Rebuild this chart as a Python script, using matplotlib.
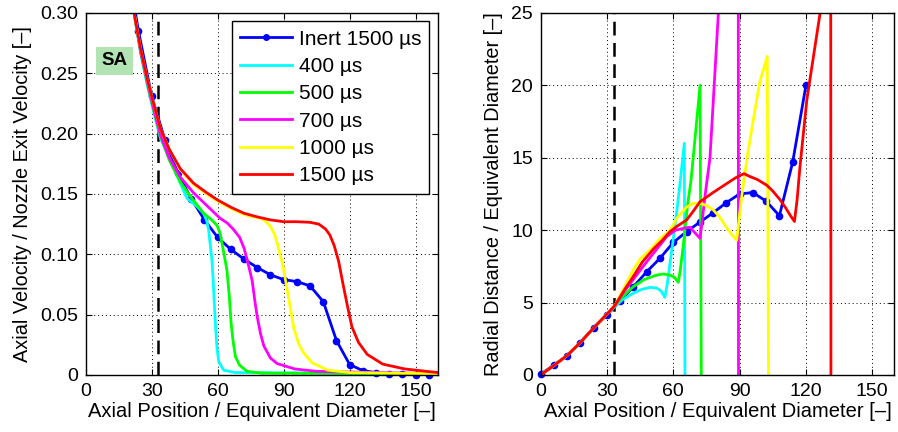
import matplotlib
matplotlib.use("Agg")
import matplotlib.pyplot as plt
from matplotlib.ticker import FuncFormatter
import numpy as np

plt.rcParams.update({
    "font.family": ["Liberation Sans", "DejaVu Sans"],
    "font.size": 14,
    "axes.linewidth": 1.0,
    "xtick.direction": "in",
    "ytick.direction": "in",
    "xtick.top": True,
    "ytick.right": True,
    "xtick.major.size": 4,
    "ytick.major.size": 4,
})

LABELS = ["Inert 1500 µs", "400 µs", "500 µs", "700 µs", "1000 µs", "1500 µs"]
COLORS = ["#0000ff", "#00ffff", "#00ff00", "#ff00ff", "#ffff00", "#ff0000"]
SA_POS = 33

# ---- left panel: axial velocity ----
inert_x = [18, 24, 30, 36, 42, 48, 54, 60, 66, 72, 78, 84, 90, 96, 102, 108, 114,
           120, 126, 132, 138, 144, 150, 156]
inert_v = [0.35, 0.285, 0.231, 0.195, 0.167, 0.146, 0.1285, 0.114, 0.104, 0.096, 0.089,
           0.083, 0.079, 0.0774, 0.0738, 0.0608, 0.0285, 0.0086, 0.0036, 0.002, 0.001,
           0.0005, 0.0003, 0.0003]

v400_x = [18, 22, 25, 28, 31, 34, 38.4, 43, 46, 50.6, 53.6, 55, 55.9, 56.8, 57.4, 58,
          58.5, 59.1, 59.7, 60.5, 62.7, 68, 160]
v400_v = [0.36, 0.30, 0.266, 0.240, 0.217, 0.196, 0.178, 0.159, 0.1465, 0.1396, 0.134,
          0.128, 0.120, 0.105, 0.095, 0.077, 0.058, 0.038, 0.022, 0.011, 0.004, 0.002, 0.001]

v500_x = [18, 22, 25, 28, 31, 34, 38, 43, 47.6, 53.6, 57, 59.7, 61, 62, 63.2, 64.2, 65.3,
          66.1, 67, 68.1, 70, 73.4, 80, 160]
v500_v = [0.36, 0.30, 0.268, 0.242, 0.219, 0.198, 0.178, 0.160, 0.148, 0.134, 0.129, 0.124,
          0.118, 0.109, 0.097, 0.087, 0.065, 0.043, 0.028, 0.015, 0.008, 0.003, 0.0015, 0.001]

v700_x = [18, 22, 25, 28, 31, 34, 38, 43, 49, 53, 57, 61, 64.3, 67, 70, 72, 74, 75.7, 77,
          78, 79.5, 81, 84, 87, 95, 105, 160]
v700_v = [0.36, 0.30, 0.268, 0.243, 0.220, 0.199, 0.180, 0.164, 0.151, 0.144, 0.137, 0.130,
          0.126, 0.121, 0.114, 0.105, 0.091, 0.078, 0.060, 0.048, 0.034, 0.024, 0.014,
          0.0095, 0.005, 0.003, 0.001]

v1000_x = [18, 22, 25, 28, 31, 34, 38, 43, 49, 55, 60, 66, 72, 76, 79.5, 82, 84, 86, 87.5,
           89.5, 91, 92.5, 94.7, 97, 99.2, 103, 110, 120, 160]
v1000_v = [0.36, 0.30, 0.270, 0.245, 0.224, 0.204, 0.187, 0.170, 0.158, 0.150, 0.144,
           0.138, 0.133, 0.131, 0.130, 0.127, 0.123, 0.116, 0.106, 0.092, 0.077, 0.061,
           0.038, 0.025, 0.018, 0.010, 0.004, 0.002, 0.001]

v1500_x = [18, 22, 25, 28, 31, 34, 38, 43, 49, 55, 60, 66, 72, 78, 84, 90, 96, 102, 106,
           109, 111, 113, 115, 117, 119, 121, 124, 128, 135, 145, 160]
v1500_v = [0.36, 0.30, 0.270, 0.245, 0.224, 0.204, 0.187, 0.171, 0.159, 0.151, 0.145,
           0.139, 0.134, 0.131, 0.1285, 0.127, 0.127, 0.1265, 0.125, 0.121, 0.116, 0.107,
           0.094, 0.075, 0.057, 0.040, 0.027, 0.017, 0.009, 0.005, 0.002]

# ---- right panel: radial distance ----
inert_rx = [0, 6, 12, 18, 24, 30, 36, 42, 48, 54, 60, 66, 72, 78, 84, 90, 96, 102, 108,
            114, 120]
inert_r = [0.05, 0.69, 1.33, 2.23, 3.27, 4.14, 5.1, 6.1, 7.13, 8.06, 9.15, 9.9, 10.55,
           11.2, 11.9, 12.5, 12.6, 12.0, 11.0, 14.7, 20.0]

r400_x = [0, 6, 12, 18, 24, 30, 33.6, 37, 41.9, 45.5, 49.5, 52.5, 54.5, 56.2, 57.3, 58.5,
          60, 61.5, 63.3, 65, 65.3]
r400_r = [0, 0.65, 1.35, 2.25, 3.25, 4.2, 4.72, 5.2, 5.64, 5.9, 6.05, 6.0, 5.8, 5.36, 6.3,
          7.7, 9.4, 11.2, 13.6, 16.0, -1]

r500_x = [0, 6, 12, 18, 24, 30, 33.6, 37, 41.9, 47, 52.5, 55.5, 58.5, 60.5, 62.3, 63.2,
          64.5, 66.5, 68, 70, 72.1, 72.7]
r500_r = [0, 0.65, 1.35, 2.25, 3.25, 4.2, 4.8, 5.4, 6.1, 6.6, 6.9, 6.97, 6.9, 6.75, 6.4,
          7.3, 8.9, 11.8, 13.4, 16.6, 20.0, -1]

r700_x = [0, 6, 12, 18, 24, 30, 33.6, 37, 41.9, 46.4, 51, 57, 61, 65.3, 67.6, 69, 72.1,
          73.2, 74.3, 76.6, 80.4, 82, 89.4, 89.5]
r700_r = [0, 0.65, 1.35, 2.25, 3.25, 4.2, 4.8, 5.6, 6.6, 7.5, 8.4, 9.55, 10.0, 10.15, 10.2,
          9.95, 9.44, 10.8, 12.3, 15.0, 25.0, 30.0, 30.0, -1]

r1000_x = [0, 6, 12, 18, 24, 30, 33.6, 37, 41.9, 45, 49.5, 54, 58.5, 62, 66, 69, 72.1, 75,
           78.1, 81, 84.9, 87, 88.7, 89.5, 90.5, 91.7, 93.9, 96.5, 99.2, 101, 102.5, 103.1]
r1000_r = [0, 0.65, 1.35, 2.25, 3.25, 4.2, 4.8, 5.8, 7.25, 8.0, 8.63, 9.4, 10.0, 10.9,
           11.6, 11.85, 11.86, 11.7, 11.4, 10.9, 10.0, 9.6, 9.3, 10.4, 11.8, 13.2, 15.5,
           17.9, 20.3, 21.2, 22.0, -1]

r1500_x = [0, 6, 12, 18, 24, 30, 33.6, 38, 41.9, 46, 51, 55, 58.5, 62, 66, 69, 72, 78, 84,
           88, 90.5, 92, 94.7, 98, 102.3, 105, 108.3, 111, 113, 114.8, 116, 117.3, 120.4,
           126.4, 129, 131.2, 131.3]
r1500_r = [0, 0.65, 1.35, 2.25, 3.25, 4.2, 4.8, 5.9, 6.8, 7.8, 8.7, 9.3, 9.9, 10.3, 10.7,
           11.3, 11.95, 12.6, 13.2, 13.6, 13.8, 13.9, 13.7, 13.5, 13.1, 12.7, 12.1, 11.5,
           11.0, 10.6, 12.1, 14.4, 19.0, 25.0, 28.0, 28.0, -1]

XTICKS = [0, 30, 60, 90, 120, 150]

fig = plt.figure(figsize=(8.98, 4.32), dpi=100)
ax1 = fig.add_axes([0.0954, 0.132, 0.392, 0.838])
ax2 = fig.add_axes([0.602, 0.132, 0.394, 0.838])


def style_axes(ax):
    ax.grid(True, linestyle=(0, (1, 3)), color="black", linewidth=0.7)
    ax.set_axisbelow(True)
    ax.set_xlim(0, 160)
    ax.set_xticks(XTICKS)
    ax.axvline(SA_POS, color="black", lw=1.8, linestyle=(0, (5.5, 3)), zorder=1.5)
    ax.set_xlabel("Axial Position / Equivalent Diameter [–]", fontsize=14.5, labelpad=2)
    ax.tick_params(labelsize=14, pad=5.5)


def plot_inert(ax, x, y, ymax):
    xs = [a for a, b in zip(x, y) if 0 <= b <= ymax]
    ys = [b for b in y if 0 <= b <= ymax]
    ax.plot(xs, ys, "o", color=COLORS[0], markersize=4.5, clip_on=False, zorder=2)
    ax.plot(x, y, color=COLORS[0], lw=2, zorder=2)
    # legend proxy
    ax.plot([], [], color=COLORS[0], lw=2, marker="o", markersize=4, label=LABELS[0])


# left
style_axes(ax1)
plot_inert(ax1, inert_x, inert_v, 0.30)
curves = [(v400_x, v400_v), (v500_x, v500_v), (v700_x, v700_v),
          (v1000_x, v1000_v), (v1500_x, v1500_v)]
for (x, y), c, lab in zip(curves, COLORS[1:], LABELS[1:]):
    ax1.plot(x, y, color=c, lw=2, label=lab)
ax1.set_ylim(0, 0.30)
ax1.set_yticks([0, 0.05, 0.10, 0.15, 0.20, 0.25, 0.30])
ax1.yaxis.set_major_formatter(FuncFormatter(lambda v, p: "0" if v == 0 else f"{v:.2f}"))
ax1.set_ylabel("Axial Velocity / Nozzle Exit Velocity [–]", fontsize=14.3, labelpad=6)
ax1.text(13.2, 0.2604, "SA", fontsize=13.5, fontweight="bold", ha="center", va="center",
         bbox=dict(boxstyle="square,pad=0.3", facecolor="#b2e3b2", edgecolor="none"))
leg = ax1.legend(loc="upper right", fontsize=15, handlelength=2.5, handletextpad=0.3,
                 labelspacing=0.4, borderaxespad=0.4, borderpad=0.4, fancybox=False,
                 framealpha=1, edgecolor="black")
leg.get_frame().set_linewidth(1.0)

# right
style_axes(ax2)
plot_inert(ax2, inert_rx, inert_r, 25)
rcurves = [(r400_x, r400_r), (r500_x, r500_r), (r700_x, r700_r),
           (r1000_x, r1000_r), (r1500_x, r1500_r)]
for (x, y), c in zip(rcurves, COLORS[1:]):
    ax2.plot(x, y, color=c, lw=2)
ax2.set_ylim(0, 25)
ax2.set_yticks([0, 5, 10, 15, 20, 25])
ax2.set_ylabel("Radial Distance / Equivalent Diameter [–]", fontsize=14.3, labelpad=6)

fig.savefig("out.png", dpi=100)
